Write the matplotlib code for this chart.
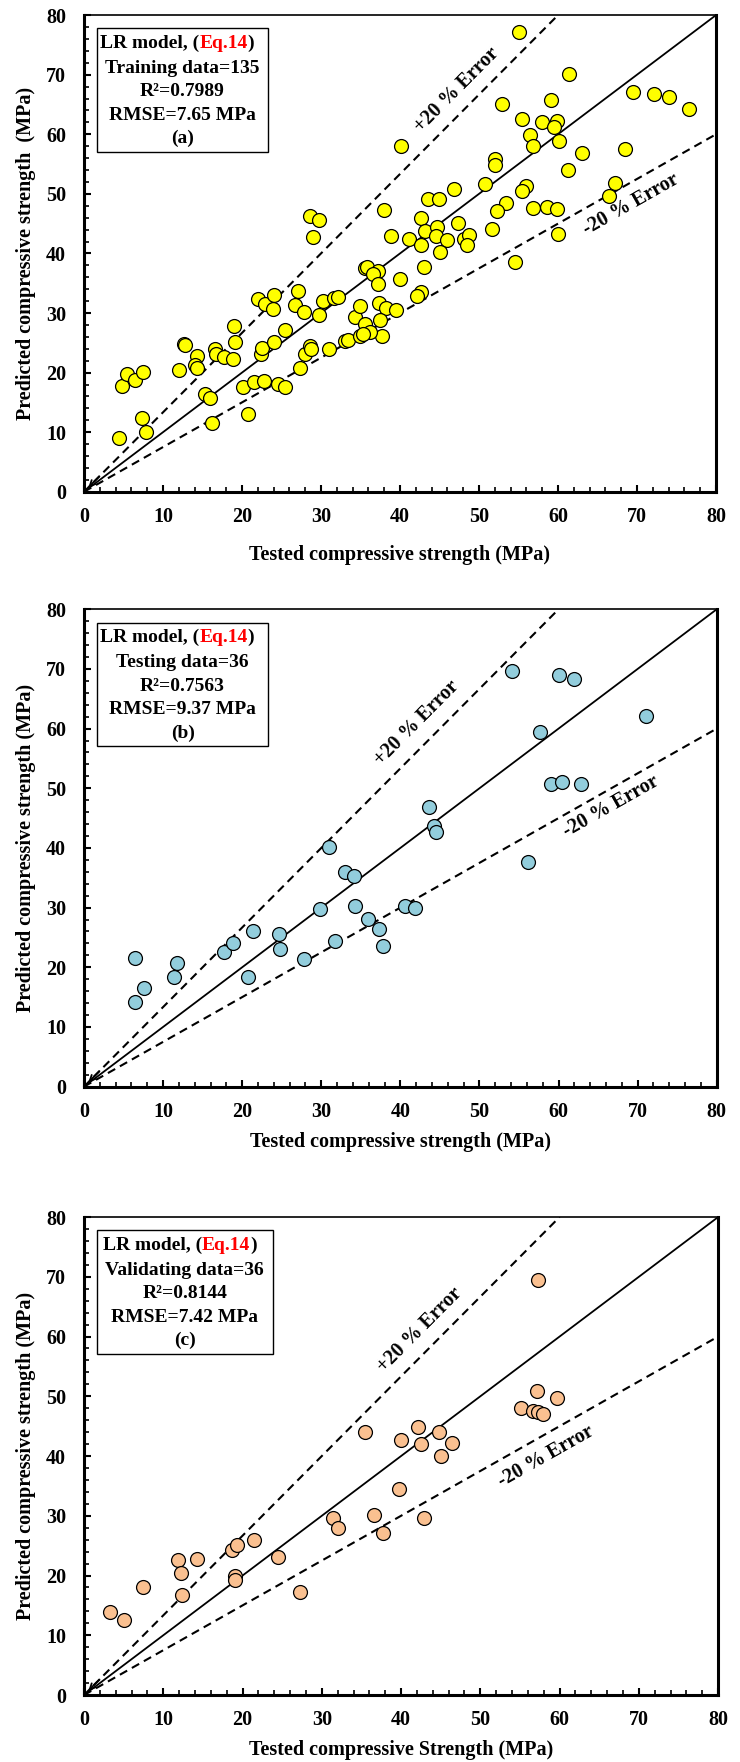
import numpy as np
import matplotlib.pyplot as plt
from matplotlib.patches import Rectangle
from matplotlib.ticker import MultipleLocator

plt.rcParams['font.family'] = ['Liberation Serif', 'DejaVu Serif']
plt.rcParams['font.weight'] = 'bold'
plt.rcParams['axes.labelweight'] = 'bold'

# TRAINING SET (a)
train_tested = [4.4, 4.8, 5.5, 6.5, 7.5, 7.4, 7.8, 12.0, 12.6, 14.3, 14.0, 14.3, 15.3, 16.0, 16.2,
                16.6, 16.7, 17.7, 18.8, 19.0, 19.1, 20.1, 20.8, 21.5, 22.0, 22.9, 22.4, 22.5, 22.8,
                24.0, 23.9, 24.0, 24.6, 25.5, 25.5, 26.7, 27.1, 27.4, 27.9, 28.0, 28.6, 28.8, 29.8,
                30.3, 31.0, 31.6, 32.1, 33.1, 33.4, 34.3, 34.9, 35.0, 35.6, 35.8, 35.8, 35.6, 28.6,
                29.7, 29.0, 43.0, 40.0, 37.2, 36.6, 37.2, 42.6, 42.2, 37.4, 38.2, 39.5, 37.5, 37.7,
                54.5, 55.1, 61.4, 69.5, 72.2, 74.1, 76.6, 40.1, 52.9, 59.1, 55.4, 58.0, 59.9, 59.5,
                56.4, 56.9, 60.1, 63.0, 68.5, 52.0, 52.0, 61.3, 50.8, 46.8, 43.5, 44.9, 56.0, 55.5,
                67.2, 66.4, 38.0, 42.6, 53.4, 52.3, 56.8, 58.6, 59.9, 38.9, 41.2, 42.7, 43.2, 44.7,
                44.5, 46.0, 47.3, 48.1, 48.7, 48.5, 51.7, 60.0, 45.1, 36.2, 35.3, 12.8]
train_pred = [9.1, 17.8, 19.7, 18.7, 20.1, 12.4, 10.0, 20.4, 24.8, 22.8, 21.3, 20.7, 16.4, 15.8, 11.5,
              23.9, 23.1, 22.7, 22.3, 27.9, 25.2, 17.6, 13.0, 18.4, 32.3, 31.6, 23.2, 24.2, 18.6,
              33.0, 30.6, 25.2, 18.1, 17.6, 27.2, 31.3, 33.7, 20.7, 30.1, 23.1, 24.4, 23.9, 29.6,
              32.0, 23.9, 32.6, 32.7, 25.3, 25.5, 29.3, 31.2, 26.1, 37.5, 37.8, 27.1, 28.1, 46.3,
              45.6, 42.7, 37.8, 35.7, 37.1, 36.6, 34.8, 33.6, 32.9, 31.7, 30.8, 30.5, 28.8, 26.2,
              38.5, 77.2, 70.1, 67.1, 66.7, 66.2, 64.2, 58.1, 65.1, 65.8, 62.6, 62.0, 62.2, 61.2,
              59.9, 58.1, 58.8, 56.8, 57.5, 55.8, 54.8, 54.0, 51.6, 50.9, 49.1, 49.1, 51.3, 50.5,
              51.8, 49.6, 47.3, 45.9, 48.4, 47.2, 47.7, 47.8, 47.5, 43.0, 42.5, 41.5, 43.7, 44.4,
              42.9, 42.3, 45.1, 42.5, 43.1, 41.5, 44.1, 43.2, 40.3, 26.8, 26.5, 24.7]

# TESTING SET (b)
test_tested = [6.4, 6.5, 7.6, 11.4, 11.7, 17.7, 18.8, 21.4, 20.7, 24.7, 24.8, 27.8, 29.9, 31.0,
               31.8, 33.0, 34.1, 34.3, 35.9, 37.3, 37.8, 40.6, 41.9, 43.6, 44.2, 44.5, 56.1, 54.1,
               60.1, 61.9, 71.1, 57.6, 59.0, 60.4, 62.9]
test_pred = [21.5, 14.1, 16.6, 18.3, 20.8, 22.5, 24.1, 26.0, 18.3, 25.6, 23.1, 21.4, 29.7, 40.2,
             24.4, 36.0, 35.3, 30.3, 28.1, 26.4, 23.5, 30.3, 30.0, 46.9, 43.7, 42.7, 37.7, 69.6,
             69.0, 68.3, 62.2, 59.4, 50.7, 51.1, 50.8]

# VALIDATING SET (c)
valid_tested = [3.3, 5.0, 7.4, 11.8, 12.3, 12.4, 14.3, 18.7, 19.3, 19.0, 19.1, 21.4, 24.5, 27.2,
                31.4, 32.1, 35.5, 57.3, 57.2, 59.7, 55.1, 56.6, 57.3, 57.9, 42.1, 44.8, 40.0, 42.5,
                46.4, 45.0, 39.8, 36.6, 42.9, 37.7]
valid_pred = [13.9, 12.5, 18.0, 22.6, 20.4, 16.7, 22.8, 24.3, 25.1, 19.9, 19.2, 25.9, 23.1, 17.2,
              29.6, 28.0, 44.1, 69.4, 50.9, 49.7, 48.1, 47.6, 47.3, 47.0, 44.9, 44.1, 42.6, 42.0,
              42.2, 40.0, 34.5, 30.1, 29.6, 27.2]


def draw_panel(ax, tested, predicted, color, lines, xlabel, ylabel, plus_xy, minus_xy, xpad, box_w):
    ax.set_xlim(0, 80)
    ax.set_ylim(0, 80)

    # 1:1 line and the +/-20 % bounds
    ax.plot([0, 80], [0, 80], color='black', lw=1.3, zorder=2)
    ax.plot([0, 60], [0, 80], color='black', lw=1.5, dashes=(4, 2.6), zorder=2)
    ax.plot([0, 80], [0, 60], color='black', lw=1.5, dashes=(4, 2.6), zorder=2)
    ax.annotate('', xy=(0.3, 0.4), xytext=(2.2, 2.93),
                arrowprops=dict(arrowstyle='->', lw=1.3, color='black'))

    ax.scatter(tested, predicted, s=100, c=color, edgecolors='black', linewidths=0.9, zorder=3)

    ax.text(plus_xy[0], plus_xy[1], '+20 % Error', rotation=np.degrees(np.arctan(4 / 3)),
            transform_rotates_text=True, rotation_mode='anchor', ha='center', va='center',
            fontsize=14.5)
    ax.text(minus_xy[0], minus_xy[1], '-20 % Error', rotation=np.degrees(np.arctan(3 / 4)),
            transform_rotates_text=True, rotation_mode='anchor', ha='center', va='center',
            fontsize=14.5)

    # info box
    ax.add_patch(Rectangle((0.02, 0.713), box_w, 0.259, transform=ax.transAxes,
                           fill=False, edgecolor='black', lw=1.0, zorder=4))
    cx = 0.02 + box_w / 2
    t1 = ax.text(cx + 0.0266, 0.9406, 'LR model, (', transform=ax.transAxes,
                 ha='right', va='center', fontsize=14)
    t2 = ax.annotate('Eq.14', xy=(1, 0), xycoords=t1, ha='left', va='bottom',
                     fontsize=14, color='red')
    ax.annotate(')', xy=(1, 0), xycoords=t2, ha='left', va='bottom', fontsize=14)
    for i, s in enumerate(lines):
        ax.text(cx, 0.888 - i * 0.049, s, transform=ax.transAxes,
                ha='center', va='center', fontsize=14)

    ax.set_xticks(range(0, 81, 10))
    ax.set_yticks(range(0, 81, 10))
    ax.xaxis.set_minor_locator(MultipleLocator(2))
    ax.yaxis.set_minor_locator(MultipleLocator(2))
    ax.tick_params(which='major', direction='in', length=5, width=1.5, labelsize=14.5)
    ax.tick_params(which='minor', direction='in', length=3.5, width=1.2)
    ax.tick_params(axis='x', pad=11)
    ax.tick_params(axis='y', pad=13)
    for side in ('left', 'bottom', 'right'):
        ax.spines[side].set_linewidth(2.2)
    ax.spines['top'].set_linewidth(1.2)

    ax.set_xlabel(xlabel, fontsize=14.5, labelpad=xpad)
    ax.set_ylabel(ylabel, fontsize=14.5, labelpad=7)


fig = plt.figure(figsize=(7.4, 17.62), dpi=100)
ax_a = fig.add_axes([0.1135, 0.7209, 0.854, 0.2705])
ax_b = fig.add_axes([0.1135, 0.3833, 0.855, 0.2709])
ax_c = fig.add_axes([0.1135, 0.0380, 0.857, 0.2713])

draw_panel(ax_a, train_tested, train_pred, '#FFFF00',
           ['Training data=135', 'R²=0.7989', 'RMSE=7.65 MPa', '(a)'],
           'Tested compressive strength (MPa)', 'Predicted compressive strength  (MPa)',
           (47.2, 67.4), (69.2, 48.2), 13, 0.2716)
draw_panel(ax_b, test_tested, test_pred, '#92CDDC',
           ['Testing data=36', 'R²=0.7563', 'RMSE=9.37 MPa', '(b)'],
           'Tested compressive strength (MPa)', 'Predicted compressive strength (MPa)',
           (42.1, 60.9), (66.6, 46.9), 7, 0.2716)
draw_panel(ax_c, valid_tested, valid_pred, '#FAC090',
           ['Validating data=36', 'R²=0.8144', 'RMSE=7.42 MPa', '(c)'],
           'Tested compressive Strength (MPa)', 'Predicted compressive strength (MPa)',
           (42.4, 61.1), (58.3, 39.9), 7, 0.2780)

fig.savefig('out.png', dpi=100)
